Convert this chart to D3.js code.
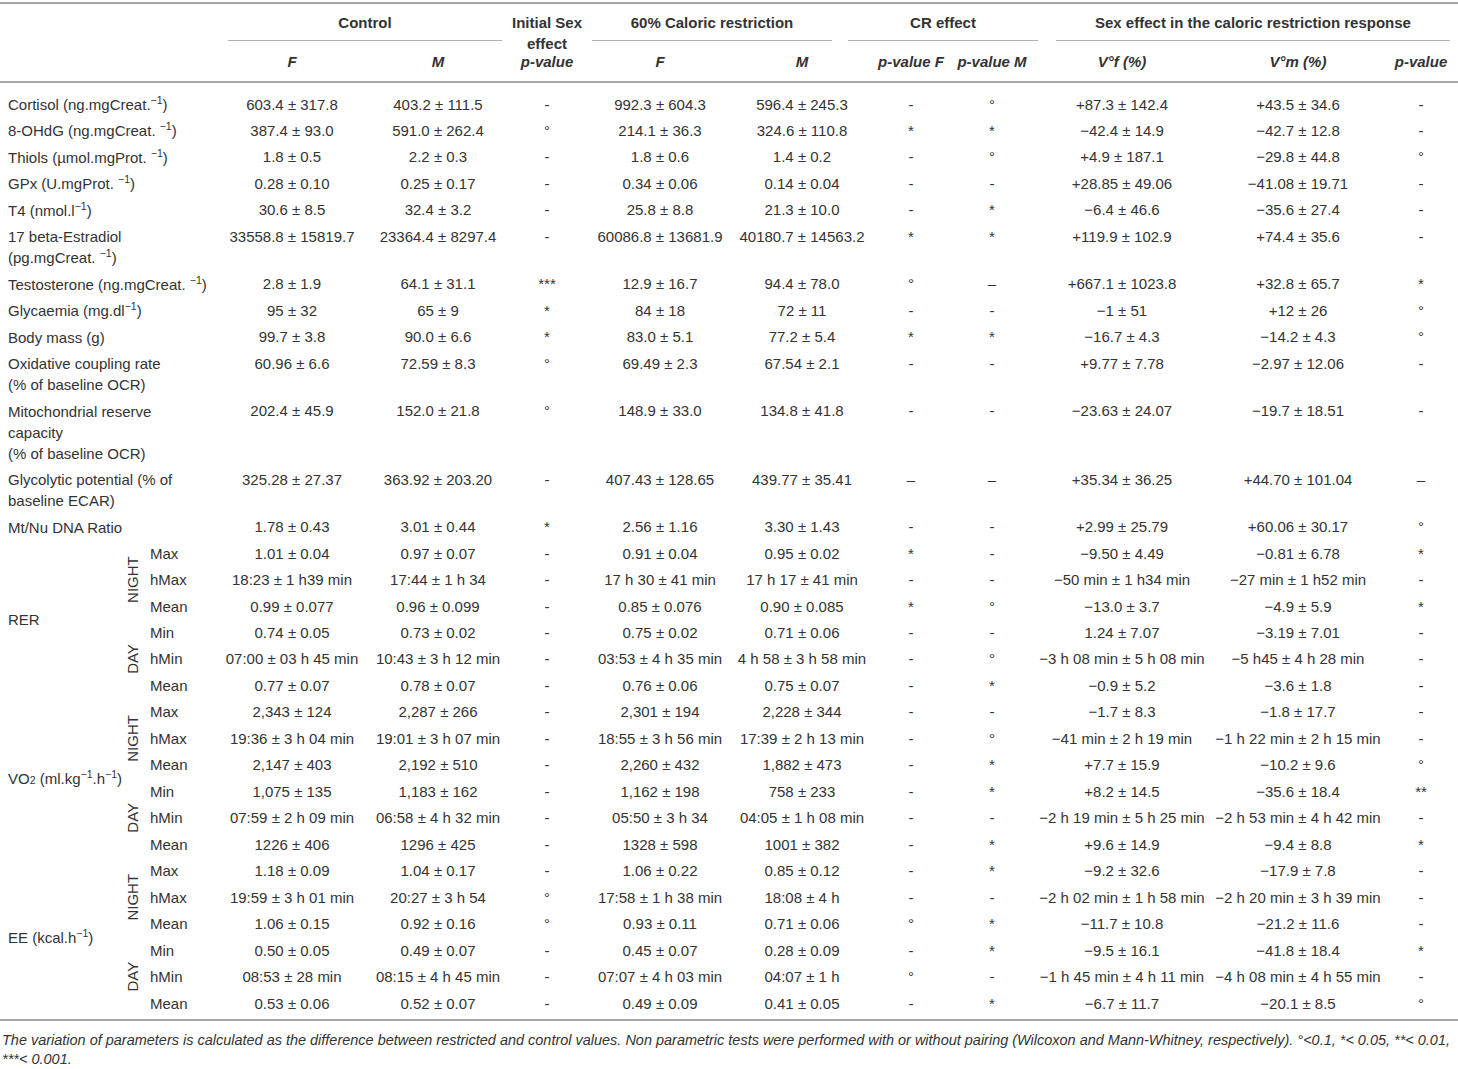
<!DOCTYPE html>
<html>
<head>
<meta charset="utf-8">
<script src="https://cdn.jsdelivr.net/npm/d3@7"></script>
<style>
  html, body { margin: 0; padding: 0; background: #fff; }
  svg { display: block; }
  text { font-family: "Liberation Sans", Arial, Helvetica, sans-serif; fill: #333; }
</style>
</head>
<body>
<div id="table"></div>
<script>
// ---- data ----
// "|" breaks a label onto a new line, ^{..} superscript, _{..} subscript
const paramLabels = [
  "Cortisol (ng.mgCreat.^{−1})",
  "8-OHdG (ng.mgCreat. ^{−1})",
  "Thiols (µmol.mgProt. ^{−1})",
  "GPx (U.mgProt. ^{−1})",
  "T4 (nmol.l^{−1})",
  "17 beta-Estradiol|(pg.mgCreat. ^{−1})",
  "Testosterone (ng.mgCreat. ^{−1})",
  "Glycaemia (mg.dl^{−1})",
  "Body mass (g)",
  "Oxidative coupling rate|(% of baseline OCR)",
  "Mitochondrial reserve|capacity|(% of baseline OCR)",
  "Glycolytic potential (% of|baseline ECAR)",
  "Mt/Nu DNA Ratio"
];
const rhythmGroups = ["RER", "VO_{2} (ml.kg^{−1}.h^{−1})", "EE (kcal.h^{−1})"];
const periods = ["NIGHT", "DAY"];
const measures = ["Max", "hMax", "Mean", "Min", "hMin", "Mean"];

const controlF = [
  "603.4 ± 317.8", "387.4 ± 93.0", "1.8 ± 0.5", "0.28 ± 0.10", "30.6 ± 8.5", "33558.8 ± 15819.7",
  "2.8 ± 1.9", "95 ± 32", "99.7 ± 3.8", "60.96 ± 6.6", "202.4 ± 45.9", "325.28 ± 27.37", "1.78 ± 0.43",
  "1.01 ± 0.04", "18:23 ± 1 h39 min", "0.99 ± 0.077", "0.74 ± 0.05", "07:00 ± 03 h 45 min", "0.77 ± 0.07",
  "2,343 ± 124", "19:36 ± 3 h 04 min", "2,147 ± 403", "1,075 ± 135", "07:59 ± 2 h 09 min", "1226 ± 406",
  "1.18 ± 0.09", "19:59 ± 3 h 01 min", "1.06 ± 0.15", "0.50 ± 0.05", "08:53 ± 28 min", "0.53 ± 0.06"
];
const controlM = [
  "403.2 ± 111.5", "591.0 ± 262.4", "2.2 ± 0.3", "0.25 ± 0.17", "32.4 ± 3.2", "23364.4 ± 8297.4",
  "64.1 ± 31.1", "65 ± 9", "90.0 ± 6.6", "72.59 ± 8.3", "152.0 ± 21.8", "363.92 ± 203.20", "3.01 ± 0.44",
  "0.97 ± 0.07", "17:44 ± 1 h 34", "0.96 ± 0.099", "0.73 ± 0.02", "10:43 ± 3 h 12 min", "0.78 ± 0.07",
  "2,287 ± 266", "19:01 ± 3 h 07 min", "2,192 ± 510", "1,183 ± 162", "06:58 ± 4 h 32 min", "1296 ± 425",
  "1.04 ± 0.17", "20:27 ± 3 h 54", "0.92 ± 0.16", "0.49 ± 0.07", "08:15 ± 4 h 45 min", "0.52 ± 0.07"
];
const initialSexP = [
  "-", "°", "-", "-", "-", "-", "***", "*", "*", "°", "°", "-", "*",
  "-", "-", "-", "-", "-", "-",
  "-", "-", "-", "-", "-", "-",
  "-", "°", "°", "-", "-", "-"
];
const crF = [
  "992.3 ± 604.3", "214.1 ± 36.3", "1.8 ± 0.6", "0.34 ± 0.06", "25.8 ± 8.8", "60086.8 ± 13681.9",
  "12.9 ± 16.7", "84 ± 18", "83.0 ± 5.1", "69.49 ± 2.3", "148.9 ± 33.0", "407.43 ± 128.65", "2.56 ± 1.16",
  "0.91 ± 0.04", "17 h 30 ± 41 min", "0.85 ± 0.076", "0.75 ± 0.02", "03:53 ± 4 h 35 min", "0.76 ± 0.06",
  "2,301 ± 194", "18:55 ± 3 h 56 min", "2,260 ± 432", "1,162 ± 198", "05:50 ± 3 h 34", "1328 ± 598",
  "1.06 ± 0.22", "17:58 ± 1 h 38 min", "0.93 ± 0.11", "0.45 ± 0.07", "07:07 ± 4 h 03 min", "0.49 ± 0.09"
];
const crM = [
  "596.4 ± 245.3", "324.6 ± 110.8", "1.4 ± 0.2", "0.14 ± 0.04", "21.3 ± 10.0", "40180.7 ± 14563.2",
  "94.4 ± 78.0", "72 ± 11", "77.2 ± 5.4", "67.54 ± 2.1", "134.8 ± 41.8", "439.77 ± 35.41", "3.30 ± 1.43",
  "0.95 ± 0.02", "17 h 17 ± 41 min", "0.90 ± 0.085", "0.71 ± 0.06", "4 h 58 ± 3 h 58 min", "0.75 ± 0.07",
  "2,228 ± 344", "17:39 ± 2 h 13 min", "1,882 ± 473", "758 ± 233", "04:05 ± 1 h 08 min", "1001 ± 382",
  "0.85 ± 0.12", "18:08 ± 4 h", "0.71 ± 0.06", "0.28 ± 0.09", "04:07 ± 1 h", "0.41 ± 0.05"
];
const crPF = [
  "-", "*", "-", "-", "-", "*", "°", "-", "*", "-", "-", "–", "-",
  "*", "-", "*", "-", "-", "-",
  "-", "-", "-", "-", "-", "-",
  "-", "-", "°", "-", "°", "-"
];
const crPM = [
  "°", "*", "°", "-", "*", "*", "–", "-", "*", "-", "-", "–", "-",
  "-", "-", "°", "-", "°", "*",
  "-", "°", "*", "*", "-", "*",
  "*", "-", "*", "*", "-", "*"
];
const varF = [
  "+87.3 ± 142.4", "−42.4 ± 14.9", "+4.9 ± 187.1", "+28.85 ± 49.06", "−6.4 ± 46.6", "+119.9 ± 102.9",
  "+667.1 ± 1023.8", "−1 ± 51", "−16.7 ± 4.3", "+9.77 ± 7.78", "−23.63 ± 24.07", "+35.34 ± 36.25", "+2.99 ± 25.79",
  "−9.50 ± 4.49", "−50 min ± 1 h34 min", "−13.0 ± 3.7", "1.24 ± 7.07", "−3 h 08 min ± 5 h 08 min", "−0.9 ± 5.2",
  "−1.7 ± 8.3", "−41 min ± 2 h 19 min", "+7.7 ± 15.9", "+8.2 ± 14.5", "−2 h 19 min ± 5 h 25 min", "+9.6 ± 14.9",
  "−9.2 ± 32.6", "−2 h 02 min ± 1 h 58 min", "−11.7 ± 10.8", "−9.5 ± 16.1", "−1 h 45 min ± 4 h 11 min", "−6.7 ± 11.7"
];
const varM = [
  "+43.5 ± 34.6", "−42.7 ± 12.8", "−29.8 ± 44.8", "−41.08 ± 19.71", "−35.6 ± 27.4", "+74.4 ± 35.6",
  "+32.8 ± 65.7", "+12 ± 26", "−14.2 ± 4.3", "−2.97 ± 12.06", "−19.7 ± 18.51", "+44.70 ± 101.04", "+60.06 ± 30.17",
  "−0.81 ± 6.78", "−27 min ± 1 h52 min", "−4.9 ± 5.9", "−3.19 ± 7.01", "−5 h45 ± 4 h 28 min", "−3.6 ± 1.8",
  "−1.8 ± 17.7", "−1 h 22 min ± 2 h 15 min", "−10.2 ± 9.6", "−35.6 ± 18.4", "−2 h 53 min ± 4 h 42 min", "−9.4 ± 8.8",
  "−17.9 ± 7.8", "−2 h 20 min ± 3 h 39 min", "−21.2 ± 11.6", "−41.8 ± 18.4", "−4 h 08 min ± 4 h 55 min", "−20.1 ± 8.5"
];
const sexP = [
  "-", "-", "°", "-", "-", "-", "*", "°", "°", "-", "-", "–", "°",
  "*", "-", "*", "-", "-", "-",
  "-", "-", "°", "**", "-", "*",
  "-", "-", "-", "*", "-", "°"
];

const groupHeaders = ["Control", "60% Caloric restriction", "CR effect", "Sex effect in the caloric restriction response"];
const subHeaders = ["F", "M", "F", "M", "p-value F", "p-value M", "V°f (%)", "V°m (%)", "p-value"];
const footnote = [
  "The variation of parameters is calculated as the difference between restricted and control values. Non parametric tests were performed with or without pairing (Wilcoxon and Mann-Whitney, respectively). °<0.1, *< 0.05, **< 0.01,",
  "***< 0.001."
];

// ---- layout ----
const W = 1458, H = 1069;
const fs = 15;
const rowStep = 26.47, wrapStep = 21, y0 = 104;
const labelX = 8, periodX = 132, measureX = 150;

const valueCols = [
  { vals: controlF, x: 292 },
  { vals: controlM, x: 438 },
  { vals: initialSexP, x: 547 },
  { vals: crF, x: 660 },
  { vals: crM, x: 802 },
  { vals: crPF, x: 911 },
  { vals: crPM, x: 992 },
  { vals: varF, x: 1122 },
  { vals: varM, x: 1298 },
  { vals: sexP, x: 1421 }
];
const groupSpans = [[228, 502], [592, 832], [848, 1038], [1056, 1450]];

const svg = d3.select("#table").append("svg")
  .attr("width", W).attr("height", H)
  .attr("viewBox", "0 0 " + W + " " + H);

// rich text: ^{sup} and _{sub}
function rich(sel, str) {
  str.split(/(\^\{[^}]*\}|_\{[^}]*\})/).filter(s => s.length).forEach(part => {
    let m = part.match(/^([\^_])\{(.*)\}$/);
    if (m) {
      sel.append("tspan")
        .attr("font-size", "0.7em")
        .attr("baseline-shift", m[1] === "^" ? "38%" : "-22%")
        .text(m[2]);
    } else {
      sel.append("tspan").text(part);
    }
  });
}

// row positions from line counts
const nRows = controlF.length;
const lineCounts = d3.range(nRows).map(i => i < paramLabels.length ? paramLabels[i].split("|").length : 1);
const extraBefore = d3.range(nRows).map(i => d3.sum(lineCounts.slice(0, i), c => c - 1));
const rowIndex = d3.scaleLinear().domain([0, 1]).range([y0, y0 + rowStep]);
const rowY = d3.range(nRows).map(i => rowIndex(i) + extraBefore[i] * wrapStep);

// ---- rules ----
const rule = (y, x1, x2, w, c) => svg.append("line")
  .attr("x1", x1).attr("x2", x2).attr("y1", y).attr("y2", y)
  .attr("stroke", c).attr("stroke-width", w);
rule(3, 0, W, 2, "#a6a6a6");
rule(82, 0, W, 2, "#a6a6a6");
rule(1020, 0, W, 2, "#a6a6a6");
groupSpans.forEach(s => rule(40.5, s[0], s[1], 1, "#b0b0b0"));

// ---- header ----
const head = svg.append("g").attr("font-weight", "bold").attr("font-size", fs);
head.selectAll("text.grp").data(groupHeaders).join("text")
  .attr("class", "grp")
  .attr("x", (d, i) => (groupSpans[i][0] + groupSpans[i][1]) / 2)
  .attr("y", 22).attr("dominant-baseline", "central").attr("text-anchor", "middle")
  .text(d => d);
[["Initial Sex", 22, "normal"], ["effect", 43, "normal"], ["p-value", 61, "italic"]].forEach(t => {
  head.append("text").attr("x", 547).attr("y", t[1])
    .attr("dominant-baseline", "central").attr("text-anchor", "middle")
    .attr("font-style", t[2]).text(t[0]);
});
const subX = valueCols.filter((c, i) => i !== 2).map(c => c.x);
head.selectAll("text.sub").data(subHeaders).join("text")
  .attr("class", "sub")
  .attr("x", (d, i) => subX[i]).attr("y", 61)
  .attr("dominant-baseline", "central").attr("text-anchor", "middle")
  .attr("font-style", "italic")
  .text(d => d);

// ---- body ----
const body = svg.append("g").attr("font-size", fs);

// parameter labels (possibly wrapped)
paramLabels.forEach((lab, i) => {
  lab.split("|").forEach((line, j) => {
    const t = body.append("text").attr("x", labelX).attr("y", rowY[i] + j * wrapStep)
      .attr("dominant-baseline", "central");
    rich(t, line);
  });
});

// rhythm blocks
const base = paramLabels.length;
rhythmGroups.forEach((g, gi) => {
  const first = base + gi * 6;
  const t = body.append("text").attr("x", labelX)
    .attr("y", (rowY[first] + rowY[first + 5]) / 2)
    .attr("dominant-baseline", "central");
  rich(t, g);
  periods.forEach((p, pi) => {
    const mid = rowY[first + pi * 3 + 1];
    body.append("text")
      .attr("transform", "translate(" + periodX + "," + mid + ") rotate(-90)")
      .attr("text-anchor", "middle").attr("dominant-baseline", "central")
      .text(p);
  });
  measures.forEach((m, mi) => {
    body.append("text").attr("x", measureX).attr("y", rowY[first + mi])
      .attr("dominant-baseline", "central").text(m);
  });
});

// value columns
valueCols.forEach(col => {
  body.append("g").selectAll("text").data(col.vals).join("text")
    .attr("x", col.x)
    .attr("y", (d, i) => rowY[i])
    .attr("text-anchor", "middle")
    .attr("dominant-baseline", "central")
    .text(d => d);
});

// ---- footnote ----
svg.append("g").attr("font-size", 14.5).attr("font-style", "italic")
  .selectAll("text").data(footnote).join("text")
  .attr("x", 2)
  .attr("y", (d, i) => 1040 + i * 19)
  .attr("dominant-baseline", "central")
  .attr("textLength", (d, i) => i === 0 ? 1448 : null)
  .attr("lengthAdjust", "spacingAndGlyphs")
  .text(d => d);
</script>
</body>
</html>
